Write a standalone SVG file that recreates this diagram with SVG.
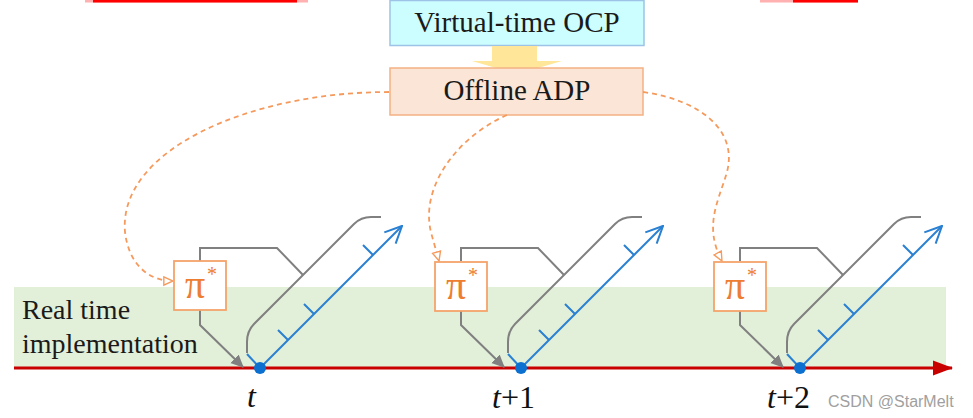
<svg xmlns="http://www.w3.org/2000/svg" width="973" height="418" viewBox="0 0 973 418">
<defs>
<style>
.serif{font-family:"Liberation Serif","Times New Roman",serif;fill:#1a1a1a}
.gray{fill:none;stroke:#808080;stroke-width:2}
.blue{fill:none;stroke:#2a80d2;stroke-width:2}
.dash{fill:none;stroke:#f59a5c;stroke-width:1.8;stroke-dasharray:5 4}
.pibox{fill:#ffffff;stroke:#f4a46a;stroke-width:1.8}
.pi{font-family:"Liberation Serif","Times New Roman",serif;fill:#ed7d31;font-size:40px}
.star{font-family:"Liberation Serif","Times New Roman",serif;fill:#ed7d31;font-size:20px}
.lab{font-family:"Liberation Serif","Times New Roman",serif;fill:#111;font-size:32px}
</style>
<marker id="openTri" viewBox="0 0 12 12" refX="11" refY="6" markerWidth="11" markerHeight="11" markerUnits="userSpaceOnUse" orient="auto">
<path d="M1,1.5 L11,6 L1,10.5 Z" fill="#ffffff" stroke="#f59a5c" stroke-width="1.5"/>
</marker>
<marker id="grayHead" viewBox="0 0 12 12" refX="11" refY="6" markerWidth="13" markerHeight="13" markerUnits="userSpaceOnUse" orient="auto">
<path d="M0,0.5 L12,6 L0,11.5 Z" fill="#808080"/>
</marker>
<marker id="blueHead" viewBox="0 0 20 20" refX="19" refY="10" markerWidth="20" markerHeight="20" markerUnits="userSpaceOnUse" orient="auto">
<path d="M2,2 L19,10 L2,18" fill="none" stroke="#2a80d2" stroke-width="2"/>
</marker>
<marker id="redHead" viewBox="0 0 20 16" refX="19" refY="8" markerWidth="20" markerHeight="16" markerUnits="userSpaceOnUse" orient="auto">
<path d="M0,0.5 L20,8 L0,15.5 Z" fill="#c80000"/>
</marker>
<g id="unitShape">
<path class="gray" d="M-60,261 L-60,248 L17,248 L43,275"/>
<path class="gray" d="M-60,310 L-60,325 L-17,367" marker-end="url(#grayHead)"/>
<path class="gray" d="M-13,353 L-13,342 Q-13,331 -6,324 L94,224 Q101,217 111,217 L121,217"/>
<path class="blue" d="M-13,354 L0,368"/>
<path class="blue" d="M0,368 L142,226" marker-end="url(#blueHead)"/>
<path class="blue" d="M28,340 L18,330 M54,314 L44,304 M113,255 L103,245"/>
<circle cx="0" cy="368" r="6" fill="#0b70d0"/>
</g>
</defs>

<!-- cropped red bars at top -->
<rect x="85" y="0" width="223" height="2.5" fill="#ffb0b0"/>
<rect x="93" y="0" width="204" height="2.5" fill="#ff0000"/>
<rect x="760" y="0" width="98" height="2.5" fill="#ffb0b0"/>
<rect x="793" y="0" width="65" height="2.5" fill="#ff0000"/>

<!-- green band -->
<rect id="realtime-band" x="14" y="287" width="932" height="80" fill="#e2efd9"/>

<g id="virtual-ocp">
<rect x="390" y="0.5" width="254" height="45" fill="#ccfdff" stroke="#9dc3e6" stroke-width="1.5"/>
<text class="serif" x="517" y="32" font-size="29" text-anchor="middle">Virtual-time OCP</text>
</g>

<g id="yellow-arrow">
<polygon points="492,46 537,46 537,61 562,61 517,74 472,61 492,61" fill="#ffe699"/>
</g>

<g id="offline-adp">
<rect x="390" y="68" width="253" height="47" fill="#fbe5d6" stroke="#f4b183" stroke-width="1.5"/>
<text class="serif" x="517" y="100" font-size="29" text-anchor="middle">Offline ADP</text>
</g>

<g id="connectors">
<path class="dash" d="M389,92 C250,92 118,150 125,232 C129,266 150,281 173,281" marker-end="url(#openTri)"/>
<path class="dash" d="M507,115 C455,138 418,190 432,236 L439,261" marker-end="url(#openTri)"/>
<path class="dash" d="M643,92 C700,100 738,130 727,172 C719,200 703,226 722,261" marker-end="url(#openTri)"/>
<line x1="14" y1="368" x2="952" y2="368" stroke="#c80000" stroke-width="3" marker-end="url(#redHead)"/>
</g>

<g id="unit-t">
<use href="#unitShape" x="260"/>
<rect class="pibox" x="174" y="261" width="52" height="49"/>
<text class="pi" x="195" y="298" text-anchor="middle">π</text>
<text class="star" x="207" y="281">*</text>
</g>

<g id="unit-t1">
<use href="#unitShape" x="521"/>
<rect class="pibox" x="435" y="262" width="52" height="49"/>
<text class="pi" x="456" y="299" text-anchor="middle">π</text>
<text class="star" x="468" y="282">*</text>
</g>

<g id="unit-t2">
<use href="#unitShape" x="800"/>
<rect class="pibox" x="714" y="262" width="52" height="49"/>
<text class="pi" x="735" y="299" text-anchor="middle">π</text>
<text class="star" x="747" y="282">*</text>
</g>

<g id="labels">
<text class="serif" x="22" y="319" font-size="28">Real time</text>
<text class="serif" x="22" y="353" font-size="28">implementation</text>
<text class="lab" x="247" y="407" font-style="italic">t</text>
<text class="lab" x="492" y="408"><tspan font-style="italic">t</tspan>+1</text>
<text class="lab" x="767" y="408"><tspan font-style="italic">t</tspan>+2</text>
<text x="828" y="407" font-family="Liberation Sans, Arial, sans-serif" font-size="16" fill="#a0a0a0">CSDN @StarMelt</text>
</g>
</svg>
